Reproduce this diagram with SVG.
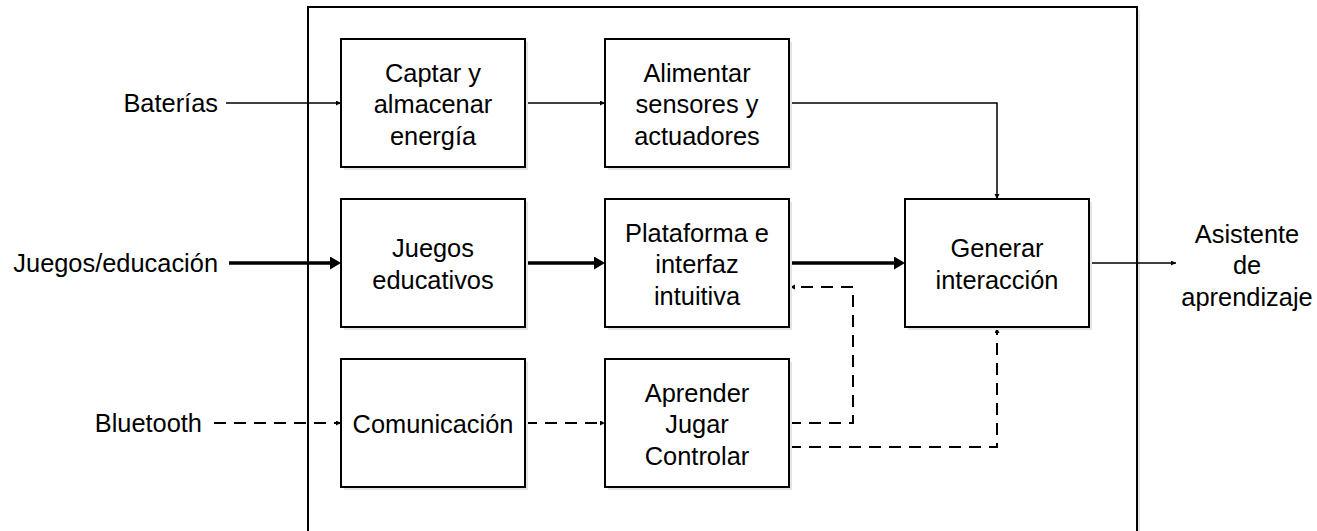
<svg xmlns="http://www.w3.org/2000/svg" width="1317" height="531" viewBox="0 0 1317 531">
<style>
.box{fill:#fff;stroke:#000;stroke-width:2}
.sh{fill:#e4e4e4;stroke:none}
.t{font-family:"Liberation Sans",Arial,sans-serif;font-size:25.4px;fill:#000;text-anchor:middle}
.te{font-family:"Liberation Sans",Arial,sans-serif;font-size:25.4px;fill:#000;text-anchor:end}
.thin{fill:none;stroke:#000;stroke-width:1.5}
.thick{fill:none;stroke:#000;stroke-width:3.5}
.dash{fill:none;stroke:#000;stroke-width:2;stroke-dasharray:12 8}
</style>
<defs>
<marker id="sm" markerUnits="userSpaceOnUse" markerWidth="6" markerHeight="6" refX="5" refY="2.5" orient="auto"><path d="M0,0 L5,2.5 L0,5 z" fill="#000"/></marker>
<marker id="bg" markerUnits="userSpaceOnUse" markerWidth="14" markerHeight="14" refX="3" refY="6.5" orient="auto"><path d="M0,0 L11,6.5 L0,13 z" fill="#000"/></marker>
</defs>
<rect width="1317" height="531" fill="#fff"/>
<g id="frame">
<rect class="sh" x="311" y="10" width="829" height="540"/>
<rect class="box" x="308" y="7" width="829" height="540"/>
</g>
<g id="connectors">
<path class="thin" d="M226,103 H341" marker-end="url(#sm)"/>
<path class="thin" d="M525,103 H605" marker-end="url(#sm)"/>
<path class="thin" d="M789,103 H997 V199" marker-end="url(#sm)"/>
<path class="thick" d="M229,263 H333" marker-end="url(#bg)"/>
<path class="thick" d="M525,263 H597" marker-end="url(#bg)"/>
<path class="thick" d="M789,263 H897" marker-end="url(#bg)"/>
<path class="thin" d="M1089,263 H1176" marker-end="url(#sm)"/>
<path class="dash" d="M214,423 H341" marker-end="url(#sm)"/>
<path class="dash" d="M525,423 H605" marker-end="url(#sm)"/>
<path class="dash" d="M789,423 H853 V287 H790" marker-end="url(#sm)"/>
<path class="dash" d="M789,447 H997 V328" marker-end="url(#sm)"/>
</g>
<g id="n-captar">
<rect class="sh" x="344" y="42" width="184" height="128"/>
<rect class="box" x="341" y="39" width="184" height="128"/>
<text class="t" x="433" y="81.7">Captar y</text>
<text class="t" x="433" y="113.3">almacenar</text>
<text class="t" x="433" y="145">energía</text>
</g>
<g id="n-alimentar">
<rect class="sh" x="608" y="42" width="184" height="128"/>
<rect class="box" x="605" y="39" width="184" height="128"/>
<text class="t" x="697" y="81.7">Alimentar</text>
<text class="t" x="697" y="113.3">sensores y</text>
<text class="t" x="697" y="145">actuadores</text>
</g>
<g id="n-juegos">
<rect class="sh" x="344" y="202" width="184" height="128"/>
<rect class="box" x="341" y="199" width="184" height="128"/>
<text class="t" x="433" y="257.4">Juegos</text>
<text class="t" x="433" y="289.2">educativos</text>
</g>
<g id="n-plataforma">
<rect class="sh" x="608" y="202" width="184" height="128"/>
<rect class="box" x="605" y="199" width="184" height="128"/>
<text class="t" x="697" y="241.7">Plataforma e</text>
<text class="t" x="697" y="273.3">interfaz</text>
<text class="t" x="697" y="305">intuitiva</text>
</g>
<g id="n-generar">
<rect class="sh" x="908" y="202" width="184" height="128"/>
<rect class="box" x="905" y="199" width="184" height="128"/>
<text class="t" x="997" y="257.4">Generar</text>
<text class="t" x="997" y="289.2">interacción</text>
</g>
<g id="n-comunicacion">
<rect class="sh" x="344" y="362" width="184" height="128"/>
<rect class="box" x="341" y="359" width="184" height="128"/>
<text class="t" x="433" y="433.3">Comunicación</text>
</g>
<g id="n-aprender">
<rect class="sh" x="608" y="362" width="184" height="128"/>
<rect class="box" x="605" y="359" width="184" height="128"/>
<text class="t" x="697" y="401.6">Aprender</text>
<text class="t" x="697" y="433.3">Jugar</text>
<text class="t" x="697" y="465">Controlar</text>
</g>
<g id="in-baterias"><text class="te" x="218" y="112">Baterías</text></g>
<g id="in-juegos"><text class="te" x="218" y="272">Juegos/educación</text></g>
<g id="in-bluetooth"><text class="te" x="202" y="432">Bluetooth</text></g>
<g id="out-asistente">
<text class="t" x="1247" y="242.5">Asistente</text>
<text class="t" x="1247" y="274">de</text>
<text class="t" x="1247" y="305.5">aprendizaje</text>
</g>
</svg>
